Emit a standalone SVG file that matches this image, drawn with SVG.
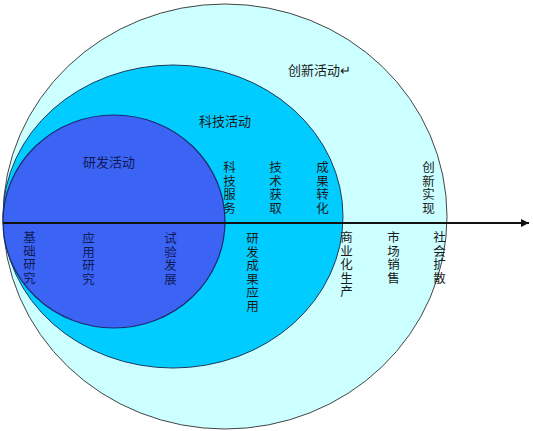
<svg xmlns="http://www.w3.org/2000/svg" width="533" height="431" viewBox="0 0 533 431">
<defs>
<style>
text{font-family:"Liberation Sans","Noto Sans CJK SC",sans-serif;font-size:13px;fill:#1a1a1a}
.in{fill:#0f1a55}
.v{writing-mode:vertical-rl;font-size:12.5px;letter-spacing:1px}
</style>
<marker id="arr" viewBox="0 0 10 10" refX="10" refY="5" markerWidth="9" markerHeight="8" markerUnits="userSpaceOnUse" orient="auto">
<path d="M0,0L10,5L0,10z" fill="#111"/>
</marker>
</defs>
<rect width="533" height="431" fill="#fff"/>
<g id="innovation">
<ellipse cx="225" cy="216.5" rx="222" ry="212.5" fill="#ccffff" stroke="#444" stroke-width="1"/>
<text x="288" y="75">创新活动↵</text>
</g>
<g id="scitech">
<ellipse cx="173" cy="216.5" rx="170" ry="151.5" fill="#00ccff" stroke="#1f3a5a" stroke-width="1"/>
<text x="199" y="126">科技活动</text>
</g>
<g id="rnd">
<ellipse cx="114" cy="221.5" rx="111" ry="106.5" fill="#3b64f5" stroke="#1a2a6e" stroke-width="1.2"/>
<text class="in" x="83" y="167">研发活动</text>
</g>
<g id="connectors">
<line x1="3" y1="223" x2="529" y2="223" stroke="#111" stroke-width="2" marker-end="url(#arr)"/>
</g>
<g id="label-kejifuwu"><text class="v" x="228" y="161">科技服务</text></g>
<g id="label-jishuhuoqu"><text class="v" x="274" y="161">技术获取</text></g>
<g id="label-chengguozhuanhua"><text class="v" x="321" y="161">成果转化</text></g>
<g id="label-chuangxinshixian"><text class="v" x="427" y="161">创新实现</text></g>
<g id="label-jichuyanjiu"><text class="v in" x="28" y="231">基础研究</text></g>
<g id="label-yingyongyanjiu"><text class="v in" x="87" y="232">应用研究</text></g>
<g id="label-shiyanfazhan"><text class="v in" x="169" y="232">试验发展</text></g>
<g id="label-yanfachengguoyingyong"><text class="v" x="251" y="232">研发成果应用</text></g>
<g id="label-shangyehuashengchan"><text class="v" x="345" y="231">商业化生产</text></g>
<g id="label-shichangxiaoshou"><text class="v" x="392" y="231">市场销售</text></g>
<g id="label-shehuikuosan"><text class="v" x="438" y="231">社会扩散</text></g>
</svg>
